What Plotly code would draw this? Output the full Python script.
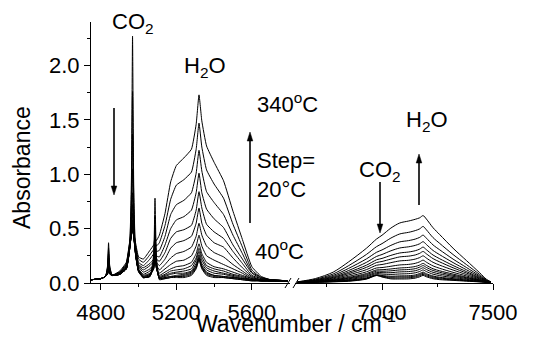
import plotly.graph_objects as go

# ---------------- data ----------------
temps = [40, 60, 80, 100, 120, 140, 160, 180, 200, 220, 240, 260, 280, 300, 320, 340]

wn_left = [4748, 4800, 4825, 4835, 4841, 4847, 4860, 4900, 4935, 4952, 4962, 4968, 4974, 4984,
           5000, 5025, 5060, 5080, 5087, 5094, 5110, 5140, 5170, 5200, 5240, 5280, 5305, 5320,
           5335, 5360, 5400, 5450, 5500, 5550, 5600, 5650, 5700, 5790]

wn_right = [6620, 6700, 6780, 6850, 6930, 6975, 7000, 7040, 7080, 7120, 7150, 7170, 7185, 7200,
            7230, 7260, 7320, 7380, 7440, 7470, 7490]

left_040 = [0.03, 0.04, 0.06, 0.15, 0.37, 0.16, 0.07, 0.08, 0.13, 0.30, 0.95, 2.27, 0.93, 0.26, 0.10, 0.05, 0.06, 0.26, 0.78, 0.26, 0.03, 0.04, 0.05, 0.05, 0.05, 0.07, 0.13, 0.21, 0.13, 0.07, 0.05, 0.05, 0.04, 0.03, 0.02, 0.02, 0.02, 0.02]
left_060 = [0.03, 0.04, 0.06, 0.14, 0.32, 0.15, 0.07, 0.08, 0.13, 0.30, 0.80, 1.76, 0.78, 0.26, 0.11, 0.05, 0.06, 0.20, 0.61, 0.20, 0.04, 0.04, 0.05, 0.06, 0.06, 0.08, 0.14, 0.22, 0.14, 0.08, 0.06, 0.05, 0.04, 0.03, 0.02, 0.02, 0.02, 0.02]
left_080 = [0.03, 0.04, 0.06, 0.13, 0.28, 0.13, 0.07, 0.08, 0.13, 0.30, 0.68, 1.37, 0.66, 0.26, 0.11, 0.05, 0.06, 0.17, 0.50, 0.17, 0.04, 0.05, 0.06, 0.06, 0.07, 0.09, 0.15, 0.23, 0.15, 0.09, 0.07, 0.06, 0.05, 0.04, 0.03, 0.02, 0.02, 0.02]
left_100 = [0.03, 0.04, 0.06, 0.12, 0.25, 0.12, 0.07, 0.08, 0.13, 0.30, 0.58, 1.05, 0.57, 0.27, 0.11, 0.05, 0.06, 0.16, 0.44, 0.16, 0.04, 0.05, 0.06, 0.07, 0.08, 0.10, 0.16, 0.24, 0.16, 0.10, 0.07, 0.06, 0.05, 0.04, 0.03, 0.02, 0.02, 0.02]
left_120 = [0.03, 0.04, 0.06, 0.11, 0.23, 0.12, 0.07, 0.08, 0.13, 0.30, 0.52, 0.83, 0.50, 0.27, 0.11, 0.05, 0.07, 0.15, 0.39, 0.15, 0.05, 0.06, 0.08, 0.09, 0.09, 0.11, 0.18, 0.26, 0.18, 0.12, 0.09, 0.08, 0.06, 0.04, 0.03, 0.02, 0.02, 0.02]
left_140 = [0.03, 0.04, 0.06, 0.11, 0.21, 0.11, 0.07, 0.08, 0.13, 0.31, 0.49, 0.72, 0.47, 0.27, 0.11, 0.05, 0.07, 0.13, 0.36, 0.14, 0.05, 0.07, 0.09, 0.10, 0.11, 0.13, 0.21, 0.29, 0.21, 0.14, 0.11, 0.09, 0.07, 0.05, 0.03, 0.02, 0.02, 0.02]
left_160 = [0.03, 0.04, 0.06, 0.10, 0.19, 0.11, 0.07, 0.08, 0.14, 0.31, 0.47, 0.64, 0.45, 0.27, 0.11, 0.06, 0.08, 0.13, 0.33, 0.14, 0.06, 0.08, 0.11, 0.12, 0.13, 0.16, 0.23, 0.32, 0.24, 0.16, 0.13, 0.11, 0.08, 0.06, 0.03, 0.02, 0.02, 0.02]
left_180 = [0.03, 0.04, 0.06, 0.10, 0.18, 0.10, 0.07, 0.08, 0.14, 0.31, 0.45, 0.58, 0.43, 0.27, 0.12, 0.06, 0.08, 0.14, 0.31, 0.14, 0.07, 0.10, 0.13, 0.15, 0.16, 0.19, 0.27, 0.36, 0.27, 0.19, 0.15, 0.13, 0.10, 0.07, 0.04, 0.03, 0.02, 0.02]
left_200 = [0.03, 0.04, 0.06, 0.09, 0.17, 0.10, 0.07, 0.09, 0.14, 0.31, 0.44, 0.55, 0.43, 0.28, 0.12, 0.07, 0.09, 0.14, 0.30, 0.15, 0.09, 0.13, 0.17, 0.20, 0.21, 0.25, 0.34, 0.44, 0.34, 0.25, 0.21, 0.17, 0.13, 0.09, 0.04, 0.03, 0.02, 0.02]
left_220 = [0.03, 0.04, 0.06, 0.09, 0.16, 0.10, 0.07, 0.09, 0.14, 0.32, 0.44, 0.52, 0.42, 0.29, 0.13, 0.08, 0.11, 0.16, 0.30, 0.17, 0.12, 0.17, 0.23, 0.27, 0.29, 0.33, 0.43, 0.55, 0.44, 0.34, 0.28, 0.24, 0.17, 0.11, 0.05, 0.03, 0.02, 0.02]
left_240 = [0.03, 0.04, 0.06, 0.09, 0.15, 0.09, 0.07, 0.09, 0.15, 0.32, 0.44, 0.51, 0.43, 0.30, 0.15, 0.10, 0.13, 0.17, 0.31, 0.19, 0.16, 0.22, 0.32, 0.37, 0.39, 0.43, 0.55, 0.69, 0.55, 0.44, 0.37, 0.33, 0.23, 0.14, 0.06, 0.03, 0.03, 0.02]
left_260 = [0.03, 0.04, 0.06, 0.08, 0.14, 0.09, 0.07, 0.09, 0.15, 0.33, 0.44, 0.50, 0.43, 0.31, 0.16, 0.12, 0.16, 0.20, 0.32, 0.22, 0.20, 0.28, 0.41, 0.47, 0.49, 0.53, 0.67, 0.84, 0.69, 0.54, 0.47, 0.41, 0.29, 0.18, 0.07, 0.04, 0.03, 0.02]
left_280 = [0.03, 0.04, 0.06, 0.08, 0.13, 0.09, 0.07, 0.10, 0.16, 0.34, 0.45, 0.50, 0.44, 0.32, 0.17, 0.14, 0.18, 0.22, 0.34, 0.25, 0.24, 0.35, 0.50, 0.58, 0.61, 0.67, 0.83, 1.01, 0.83, 0.68, 0.59, 0.51, 0.35, 0.22, 0.09, 0.04, 0.03, 0.02]
left_300 = [0.03, 0.04, 0.06, 0.08, 0.12, 0.09, 0.07, 0.10, 0.17, 0.35, 0.46, 0.50, 0.45, 0.33, 0.19, 0.16, 0.22, 0.27, 0.36, 0.29, 0.30, 0.43, 0.63, 0.72, 0.76, 0.83, 1.01, 1.22, 1.03, 0.84, 0.74, 0.63, 0.44, 0.27, 0.10, 0.05, 0.03, 0.02]
left_320 = [0.03, 0.04, 0.06, 0.08, 0.12, 0.09, 0.07, 0.10, 0.18, 0.36, 0.47, 0.51, 0.46, 0.35, 0.22, 0.19, 0.26, 0.31, 0.39, 0.34, 0.37, 0.53, 0.77, 0.90, 0.95, 1.02, 1.23, 1.47, 1.25, 1.04, 0.91, 0.78, 0.54, 0.33, 0.12, 0.05, 0.03, 0.02]
left_340 = [0.03, 0.04, 0.06, 0.08, 0.11, 0.08, 0.07, 0.11, 0.19, 0.37, 0.48, 0.51, 0.47, 0.37, 0.24, 0.22, 0.30, 0.35, 0.42, 0.39, 0.44, 0.64, 0.93, 1.08, 1.15, 1.23, 1.46, 1.73, 1.49, 1.26, 1.11, 0.94, 0.66, 0.40, 0.15, 0.06, 0.03, 0.02]

right_040 = [0.005, 0.007, 0.011, 0.016, 0.036, 0.069, 0.055, 0.038, 0.037, 0.038, 0.045, 0.057, 0.070, 0.057, 0.039, 0.031, 0.024, 0.017, 0.010, 0.007, 0.005]
right_060 = [0.006, 0.008, 0.012, 0.019, 0.039, 0.070, 0.059, 0.046, 0.046, 0.048, 0.055, 0.067, 0.080, 0.066, 0.047, 0.038, 0.029, 0.020, 0.012, 0.007, 0.006]
right_080 = [0.006, 0.008, 0.014, 0.023, 0.043, 0.072, 0.063, 0.054, 0.056, 0.057, 0.064, 0.077, 0.090, 0.076, 0.056, 0.046, 0.034, 0.024, 0.013, 0.008, 0.006]
right_100 = [0.006, 0.009, 0.015, 0.026, 0.048, 0.077, 0.069, 0.062, 0.065, 0.067, 0.074, 0.087, 0.100, 0.085, 0.064, 0.053, 0.040, 0.027, 0.015, 0.008, 0.006]
right_120 = [0.006, 0.010, 0.019, 0.032, 0.058, 0.087, 0.082, 0.079, 0.083, 0.086, 0.094, 0.106, 0.120, 0.105, 0.081, 0.068, 0.050, 0.034, 0.018, 0.009, 0.006]
right_140 = [0.006, 0.011, 0.022, 0.039, 0.067, 0.097, 0.095, 0.095, 0.102, 0.105, 0.113, 0.126, 0.140, 0.124, 0.098, 0.083, 0.061, 0.041, 0.021, 0.010, 0.006]
right_160 = [0.006, 0.013, 0.025, 0.045, 0.077, 0.109, 0.108, 0.112, 0.120, 0.124, 0.132, 0.146, 0.160, 0.143, 0.115, 0.098, 0.071, 0.048, 0.024, 0.011, 0.006]
right_180 = [0.007, 0.014, 0.028, 0.051, 0.087, 0.120, 0.122, 0.129, 0.138, 0.143, 0.152, 0.165, 0.180, 0.162, 0.131, 0.112, 0.082, 0.054, 0.027, 0.012, 0.007]
right_200 = [0.007, 0.016, 0.033, 0.061, 0.103, 0.138, 0.142, 0.154, 0.166, 0.171, 0.181, 0.195, 0.210, 0.191, 0.157, 0.135, 0.098, 0.065, 0.031, 0.014, 0.007]
right_220 = [0.007, 0.018, 0.039, 0.074, 0.123, 0.163, 0.170, 0.187, 0.203, 0.209, 0.220, 0.234, 0.250, 0.229, 0.190, 0.164, 0.119, 0.078, 0.037, 0.016, 0.007]
right_240 = [0.008, 0.020, 0.046, 0.087, 0.144, 0.188, 0.198, 0.220, 0.240, 0.247, 0.258, 0.273, 0.290, 0.268, 0.224, 0.194, 0.140, 0.092, 0.043, 0.018, 0.008]
right_260 = [0.008, 0.023, 0.052, 0.099, 0.164, 0.213, 0.226, 0.254, 0.276, 0.285, 0.297, 0.312, 0.330, 0.306, 0.257, 0.223, 0.161, 0.105, 0.049, 0.020, 0.008]
right_280 = [0.009, 0.026, 0.060, 0.115, 0.190, 0.244, 0.262, 0.296, 0.322, 0.333, 0.346, 0.361, 0.380, 0.354, 0.299, 0.260, 0.188, 0.122, 0.057, 0.022, 0.009]
right_300 = [0.009, 0.029, 0.070, 0.135, 0.222, 0.282, 0.304, 0.346, 0.378, 0.390, 0.404, 0.420, 0.440, 0.412, 0.350, 0.305, 0.220, 0.143, 0.066, 0.025, 0.009]
right_320 = [0.010, 0.034, 0.083, 0.160, 0.263, 0.334, 0.362, 0.413, 0.451, 0.466, 0.482, 0.498, 0.520, 0.489, 0.417, 0.364, 0.262, 0.170, 0.078, 0.029, 0.010]
right_340 = [0.011, 0.041, 0.100, 0.195, 0.320, 0.404, 0.439, 0.505, 0.552, 0.570, 0.586, 0.600, 0.620, 0.588, 0.508, 0.445, 0.320, 0.207, 0.094, 0.035, 0.011]

left_series = [left_040, left_060, left_080, left_100, left_120, left_140, left_160, left_180,
               left_200, left_220, left_240, left_260, left_280, left_300, left_320, left_340]
right_series = [right_040, right_060, right_080, right_100, right_120, right_140, right_160, right_180,
                right_200, right_220, right_240, right_260, right_280, right_300, right_320, right_340]

y_ticks = [0.0, 0.5, 1.0, 1.5, 2.0]
y_ticktext = ["0.0", "0.5", "1.0", "1.5", "2.0"]
x_left_ticks = [4800, 5200, 5600]
x_right_ticks = [7000, 7500]

# ---------------- figure ----------------
W, H = 533, 338
ML, MR, MT, MB = 91, 40, 22, 55
PW, PH = W - ML - MR, H - MT - MB


def px(xp):
    return (xp - ML) / PW


def py(yp):
    return (H - MB - yp) / PH


FONT = "Liberation Sans, Arial, sans-serif"

fig = go.Figure()
for t, yl, yr in zip(temps, left_series, right_series):
    fig.add_trace(go.Scatter(x=wn_left, y=yl, xaxis="x", yaxis="y", mode="lines",
                             line=dict(color="black", width=1, shape="spline", smoothing=0.4),
                             name=f"{t} °C", showlegend=False))
    fig.add_trace(go.Scatter(x=wn_right, y=yr, xaxis="x2", yaxis="y", mode="lines",
                             line=dict(color="black", width=1, shape="spline", smoothing=0.8),
                             name=f"{t} °C", showlegend=False))

axis_common = dict(showline=True, linecolor="black", linewidth=1, ticks="outside", ticklen=6,
                   tickwidth=1, tickcolor="black", showgrid=False, zeroline=False, automargin=False,
                   tickfont=dict(family=FONT, size=22, color="black"))

fig.update_layout(
    width=W, height=H,
    margin=dict(l=ML, r=MR, t=MT, b=MB),
    paper_bgcolor="white", plot_bgcolor="white",
    showlegend=False,
    xaxis=dict(domain=[0, px(290)], range=[4748, 5802], anchor="y", tickvals=x_left_ticks,
               ticklabelstandoff=4,
               minor=dict(tickvals=[5000, 5400], ticks="outside", ticklen=3, tickcolor="black"),
               **axis_common),
    xaxis2=dict(domain=[px(295), 1], range=[6608, 7500], anchor="y", tickvals=x_right_ticks,
                ticklabelstandoff=4,
                minor=dict(tickvals=[6750, 7250], ticks="outside", ticklen=3, tickcolor="black"),
                **axis_common),
    yaxis=dict(domain=[0, 1], range=[0, 2.4], anchor="x", tickvals=y_ticks, ticktext=y_ticktext,
               minor=dict(tickvals=[0.25, 0.75, 1.25, 1.75, 2.25], ticks="outside", ticklen=3,
                          tickcolor="black"),
               **axis_common),
)

tf = dict(family=FONT, size=22, color="black")
ttl = dict(family=FONT, size=23, color="black")
annots = [
    dict(text="CO<sub>2</sub>", x=px(133), y=py(23), xanchor="center", yanchor="middle", font=tf),
    dict(text="H<sub>2</sub>O", x=px(205), y=py(67), xanchor="center", yanchor="middle", font=tf),
    dict(text="340<sup>o</sup>C", x=px(255), y=py(103), xanchor="left", yanchor="middle", font=tf),
    dict(text="Step=<br>20°C", x=px(255), y=py(175), xanchor="left", yanchor="middle", align="left", font=tf),
    dict(text="40<sup>o</sup>C", x=px(253), y=py(250), xanchor="left", yanchor="middle", font=tf),
    dict(text="H<sub>2</sub>O", x=px(427), y=py(121), xanchor="center", yanchor="middle", font=tf),
    dict(text="CO<sub>2</sub>", x=px(380), y=py(171), xanchor="center", yanchor="middle", font=tf),
    dict(text="Wavenumber / cm<sup>-1</sup>", x=px(296), y=py(339), xanchor="center", yanchor="bottom", font=ttl),
    dict(text="Absorbance", x=px(22), y=py(168), xanchor="center", yanchor="middle", textangle=-90, font=ttl),
]
for a in annots:
    fig.add_annotation(xref="paper", yref="paper", showarrow=False, **a)

# arrows: (x, tail_y, tip_y) in pixels -> line + filled head
arrows = [(114, 108, 195), (250, 223, 132), (380, 182, 233), (419, 205, 154)]
for xa, tail, tip in arrows:
    d = 1 if tip > tail else -1
    base = tip - d * 9
    fig.add_shape(type="line", xref="paper", yref="paper", x0=px(xa), y0=py(tail),
                  x1=px(xa), y1=py(base), line=dict(color="black", width=1.6))
    fig.add_shape(type="path", xref="paper", yref="paper",
                  path=(f"M {px(xa - 2.8)} {py(base)} L {px(xa + 2.8)} {py(base)} "
                        f"L {px(xa)} {py(tip)} Z"),
                  fillcolor="black", line=dict(color="black", width=0.5))

# axis break marks
for x0 in (285, 293):
    fig.add_shape(type="line", xref="paper", yref="paper", x0=px(x0), y0=py(288),
                  x1=px(x0 + 6), y1=py(278), line=dict(color="black", width=1))

fig.write_html("out.html")
